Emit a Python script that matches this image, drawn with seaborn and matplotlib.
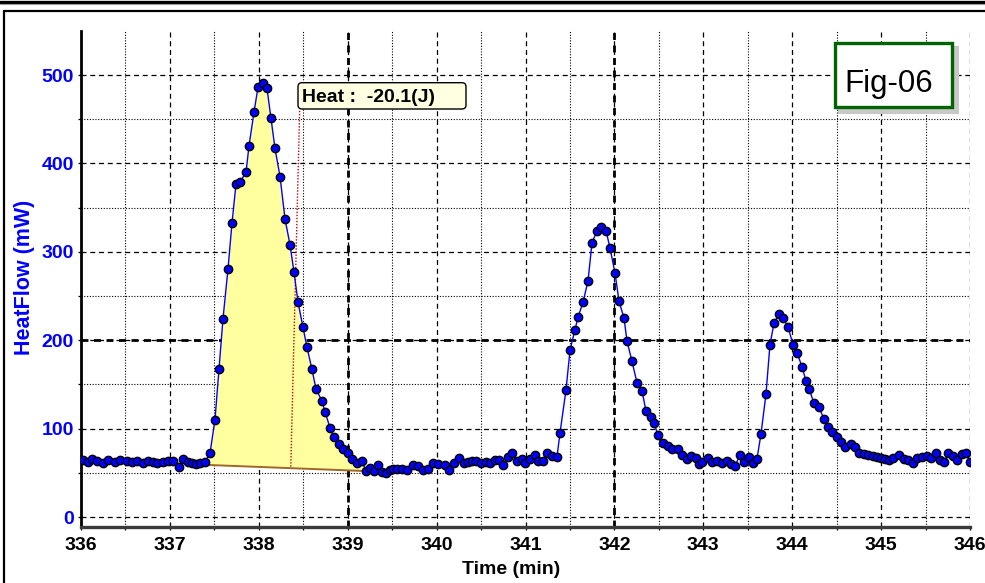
import numpy as np
import pandas as pd
import matplotlib
matplotlib.use("Agg")
import matplotlib.pyplot as plt
import seaborn as sns
from matplotlib.patches import Rectangle, FancyBboxPatch
from matplotlib.lines import Line2D
from matplotlib.transforms import IdentityTransform
from matplotlib.ticker import MultipleLocator

# ---------------- data ----------------
time_min = [
    336.022, 336.079, 336.124, 336.180, 336.247, 336.304, 336.382, 336.439, 336.517, 336.574,
    336.630, 336.697, 336.754, 336.810, 336.855, 336.922, 336.979, 337.034, 337.102, 337.147,
    337.204, 337.249, 337.294, 337.339, 337.395, 337.451, 337.507, 337.552, 337.597, 337.654,
    337.699, 337.744, 337.789, 337.856, 337.890, 337.946, 337.991, 338.047, 338.092, 338.137,
    338.182, 338.239, 338.295, 338.351, 338.396, 338.441, 338.497, 338.542, 338.598, 338.643,
    338.711, 338.745, 338.801, 338.846, 338.902, 338.947, 339.003, 339.048, 339.105, 339.161,
    339.206, 339.251, 339.296, 339.341, 339.386, 339.431, 339.476, 339.510, 339.555, 339.611,
    339.667, 339.735, 339.791, 339.847, 339.903, 339.960, 340.016, 340.094, 340.139, 340.196,
    340.252, 340.308, 340.353, 340.398, 340.443, 340.499, 340.556, 340.601, 340.657, 340.702,
    340.747, 340.803, 340.848, 340.904, 340.961, 340.994, 341.051, 341.107, 341.141, 341.197,
    341.242, 341.298, 341.354, 341.388, 341.456, 341.501, 341.557, 341.591, 341.647, 341.703,
    341.748, 341.804, 341.849, 341.906, 341.951, 342.007, 342.052, 342.108, 342.142, 342.198,
    342.254, 342.310, 342.355, 342.412, 342.445, 342.490, 342.547, 342.603, 342.648, 342.715,
    342.761, 342.817, 342.862, 342.918, 342.952, 342.985, 343.053, 343.098, 343.154, 343.210,
    343.267, 343.312, 343.357, 343.413, 343.458, 343.514, 343.559, 343.604, 343.649, 343.705,
    343.750, 343.795, 343.852, 343.897, 343.953, 344.009, 344.054, 344.110, 344.155, 344.189,
    344.245, 344.301, 344.358, 344.403, 344.448, 344.504, 344.549, 344.594, 344.661, 344.706,
    344.751, 344.808, 344.853, 344.909, 344.954, 344.999, 345.044, 345.089, 345.134, 345.201,
    345.258, 345.303, 345.359, 345.404, 345.460, 345.516, 345.561, 345.618, 345.663, 345.708,
    345.753, 345.809, 345.854, 345.910, 345.955, 346.000,
]
heatflow_mw = [
    64, 62, 66, 63, 61, 64, 62, 64, 63, 62,
    63, 61, 63, 62, 61, 62, 63, 63, 57, 66,
    62, 61, 60, 61, 62, 72, 110, 167, 224, 281,
    333, 377, 379, 390, 420, 458, 486, 491, 485, 451,
    417, 385, 337, 308, 277, 243, 215, 192, 167, 145,
    131, 119, 101, 90, 83, 77, 72, 66, 61, 63,
    52, 55, 52, 59, 51, 50, 53, 54, 54, 54,
    53, 59, 58, 53, 54, 61, 60, 59, 53, 61,
    67, 61, 62, 63, 63, 61, 62, 61, 64, 64,
    59, 68, 72, 63, 66, 61, 66, 70, 63, 63,
    72, 69, 68, 95, 144, 189, 212, 226, 243, 267,
    310, 324, 328, 324, 304, 276, 244, 225, 199, 176,
    152, 143, 120, 113, 106, 93, 84, 80, 77, 77,
    70, 66, 69, 67, 60, 62, 67, 62, 63, 61,
    63, 60, 58, 70, 62, 68, 61, 66, 94, 139,
    195, 219, 230, 225, 215, 195, 186, 170, 154, 145,
    129, 124, 111, 102, 96, 90, 85, 79, 83, 79,
    72, 71, 70, 69, 68, 67, 66, 64, 67, 70,
    66, 64, 61, 67, 68, 69, 67, 72, 64, 62,
    72, 69, 64, 71, 72, 62,
]

# integration baseline of the first peak
baseline_t = [337.40, 339.20]
baseline_mw = [59, 52]
# cursor line from baseline to the label
cursor_t = [338.36, 338.46]
cursor_mw = [57, 461]

x_ticks = list(range(336, 347))
y_ticks = [0, 100, 200, 300, 400, 500]
heat_label = "Heat :  -20.1(J)"
fig_label = "Fig-06"
x_title = "Time (min)"
y_title = "HeatFlow (mW)"

# ---------------- style ----------------
sns.set_theme(style="white")
plt.rcParams["font.family"] = ["Liberation Sans", "DejaVu Sans"]

W, H = 985, 583
fig = plt.figure(figsize=(W / 100, H / 100), dpi=100)
fig.patch.set_facecolor("white")
ax = fig.add_axes([81 / W, 1 - 527 / H, (970 - 81) / W, (527 - 31) / H])
ax.set_facecolor("white")

t = np.array(time_min)
q = np.array(heatflow_mw)
mask = (t >= baseline_t[0] - 1e-6) & (t <= baseline_t[1] + 0.01)
tb = t[mask]
base = np.interp(tb, baseline_t, baseline_mw)
ax.fill_between(tb, q[mask], base, color="#FFFFA0", lw=0, zorder=1)
ax.plot(baseline_t, baseline_mw, color="#A0662A", lw=1.4, zorder=2)
ax.plot(cursor_t, cursor_mw, color="#CC0000", lw=1.0, ls=(0, (1, 1.2)), zorder=2)

df = pd.DataFrame({"time": time_min, "heat": heatflow_mw})
sns.lineplot(data=df, x="time", y="heat", ax=ax, color="#0000FF", lw=1.0,
             marker="o", markersize=6.0, markerfacecolor="#0000FF",
             markeredgecolor="black", markeredgewidth=1.0,
             estimator=None, sort=False, zorder=3)

ax.set_xlim(336, 346)
ax.set_ylim(-11.3, 549.8)
ax.set_xlabel("")
ax.set_ylabel("")

ax.set_xticks(x_ticks)
ax.set_yticks(y_ticks)
ax.xaxis.set_minor_locator(MultipleLocator(0.5))
ax.yaxis.set_minor_locator(MultipleLocator(50))

ax.set_axisbelow(True)
ax.grid(which="major", color="black", lw=0.9, ls=(0, (4, 3)))
ax.grid(which="minor", color="black", lw=0.8, ls=(0, (1, 1.5)))
for xv in (339, 342):
    ax.axvline(xv, color="black", lw=2.0, ls=(0, (2.5, 2)), zorder=0.5)
ax.axhline(200, color="black", lw=2.0, ls=(0, (2.5, 2)), zorder=0.5)

for s in ("top", "right"):
    ax.spines[s].set_visible(False)
ax.spines["left"].set_color("black")
ax.spines["left"].set_linewidth(2.0)
ax.spines["bottom"].set_color("#3a3a3a")
ax.spines["bottom"].set_linewidth(2.4)

ax.tick_params(which="both", direction="out", length=2.2, width=0.9, color="black",
               bottom=True, left=True)
ax.tick_params(axis="x", pad=5)
ax.tick_params(axis="y", pad=3)
for lab in ax.get_xticklabels():
    lab.set_fontsize(14)
    lab.set_fontweight("bold")
    lab.set_color("black")
for lab in ax.get_yticklabels():
    lab.set_fontsize(14)
    lab.set_fontweight("bold")
    lab.set_color("#0000FF")

fig.text(25 / W, 1 - 277 / H, y_title, rotation=90, color="#0000FF",
         fontsize=15.5, fontweight="bold", ha="center", va="center")
fig.text(511 / W, 1 - 570 / H, x_title, color="black",
         fontsize=14, fontweight="bold", ha="center", va="center")

ident = IdentityTransform()
# outer frame
fig.add_artist(Line2D([0, W], [H - 1.6, H - 1.6], transform=ident, color="black", lw=2.4))
fig.add_artist(Line2D([0, W], [H - 3.9, H - 3.9], transform=ident, color="#9a9a9a", lw=0.8))
fig.add_artist(Line2D([3.7, W], [H - 11, H - 11], transform=ident, color="black", lw=1.6))
fig.add_artist(Line2D([3.7, 3.7], [0, H - 11], transform=ident, color="black", lw=1.6))

# heat label
fig.add_artist(FancyBboxPatch((298, H - 109), 168, 26.3,
                              boxstyle="round,pad=0,rounding_size=4",
                              transform=ident, facecolor="#FFFFE1",
                              edgecolor="black", lw=1.0))
fig.text(302 / W, 1 - 101.7 / H, heat_label, fontsize=14, fontweight="bold",
         color="black", ha="left", va="baseline")

# Fig-06 box with shadow
fig.add_artist(Rectangle((838, H - 114), 121, 68, transform=ident,
                         facecolor="#C8C8C8", edgecolor="none"))
fig.add_artist(Rectangle((834.6, H - 107.4), 117.8, 64.8, transform=ident,
                         facecolor="white", edgecolor="#006400", lw=2.4))
fig.text(888.5 / W, 1 - 91.7 / H, fig_label, fontsize=22.5, color="black",
         ha="center", va="baseline")

fig.savefig("out.png", dpi=100)
